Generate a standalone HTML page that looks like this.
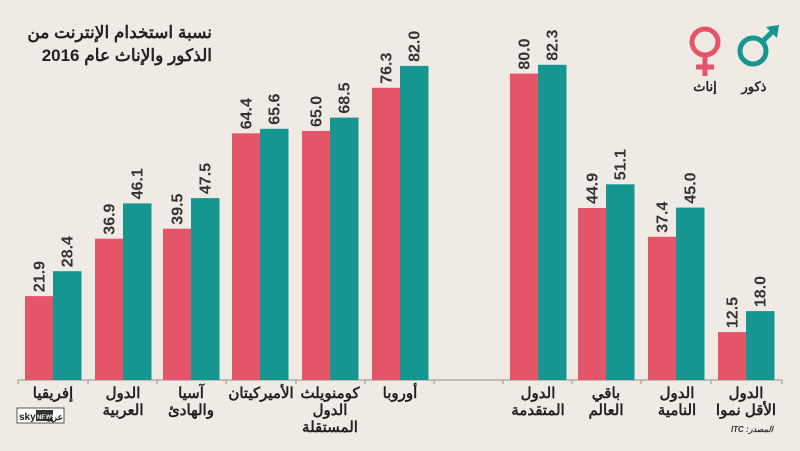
<!DOCTYPE html>
<html><head><meta charset="utf-8"><style>
html,body{margin:0;padding:0;background:#efebe4;}
svg{display:block}
text{font-family:"Liberation Sans","Noto Sans CJK SC",sans-serif;}
</style></head><body>
<svg width="800" height="451" xmlns="http://www.w3.org/2000/svg">
<rect width="800" height="451" fill="#efebe4"/>
<g font-weight="bold" fill="#222" text-anchor="start" font-size="17" direction="rtl">
<text x="212" y="38">نسبة استخدام الإنترنت من</text>
<text x="212" y="61">الذكور والإناث عام 2016</text>
</g>
<g fill="none" stroke-width="5">
<circle cx="705" cy="42" r="13" stroke="#e5556a"/>
<line x1="705" y1="55" x2="705" y2="76" stroke="#e5556a"/>
<line x1="696" y1="67" x2="714" y2="67" stroke="#e5556a"/>
<circle cx="753" cy="51" r="13" stroke="#159690"/>
<line x1="762" y1="42" x2="774" y2="30" stroke="#159690"/>
<polygon points="766,27 779,25 777,38" fill="#159690" stroke="none"/>
</g>
<g font-weight="bold" fill="#222" font-size="13" text-anchor="middle">
<text x="705" y="91">إناث</text><text x="754" y="91">ذكور</text>
</g>
<line x1="18" y1="380" x2="782" y2="380" stroke="#b0aca6" stroke-width="1.5"/>
<g stroke="#b0aca6" stroke-width="1.5">
<line x1="18" y1="380" x2="18" y2="384"/><line x1="88" y1="380" x2="88" y2="384"/><line x1="157" y1="380" x2="157" y2="384"/><line x1="226" y1="380" x2="226" y2="384"/><line x1="296" y1="380" x2="296" y2="384"/><line x1="365" y1="380" x2="365" y2="384"/><line x1="434" y1="380" x2="434" y2="384"/><line x1="503" y1="380" x2="503" y2="384"/><line x1="572" y1="380" x2="572" y2="384"/><line x1="641" y1="380" x2="641" y2="384"/><line x1="711" y1="380" x2="711" y2="384"/><line x1="782" y1="380" x2="782" y2="384"/>
</g>
<g>
<rect x="25" y="296.1" width="28.5" height="83.9" fill="#e5556a"/>
<rect x="53" y="271.2" width="28.5" height="108.8" fill="#159690"/>
<rect x="95" y="238.7" width="28.5" height="141.3" fill="#e5556a"/>
<rect x="123" y="203.4" width="28.5" height="176.6" fill="#159690"/>
<rect x="163" y="228.7" width="28.5" height="151.3" fill="#e5556a"/>
<rect x="191" y="198.1" width="28.5" height="181.9" fill="#159690"/>
<rect x="232" y="133.3" width="28.5" height="246.7" fill="#e5556a"/>
<rect x="260" y="128.8" width="28.5" height="251.2" fill="#159690"/>
<rect x="302" y="131.0" width="28.5" height="249.0" fill="#e5556a"/>
<rect x="330" y="117.6" width="28.5" height="262.4" fill="#159690"/>
<rect x="372" y="87.8" width="28.5" height="292.2" fill="#e5556a"/>
<rect x="400" y="65.9" width="28.5" height="314.1" fill="#159690"/>
<rect x="510" y="73.6" width="28.5" height="306.4" fill="#e5556a"/>
<rect x="538" y="64.8" width="28.5" height="315.2" fill="#159690"/>
<rect x="578" y="208.0" width="28.5" height="172.0" fill="#e5556a"/>
<rect x="606" y="184.3" width="28.5" height="195.7" fill="#159690"/>
<rect x="648" y="236.8" width="28.5" height="143.2" fill="#e5556a"/>
<rect x="676" y="207.6" width="28.5" height="172.4" fill="#159690"/>
<rect x="718" y="332.1" width="28.5" height="47.9" fill="#e5556a"/>
<rect x="746" y="311.1" width="28.5" height="68.9" fill="#159690"/>
</g>
<g font-size="16" font-weight="bold" fill="#333">
<text transform="translate(44.5,292.1) rotate(-90)">21.9</text>
<text transform="translate(72.5,267.2) rotate(-90)">28.4</text>
<text transform="translate(114.5,234.7) rotate(-90)">36.9</text>
<text transform="translate(142.5,199.4) rotate(-90)">46.1</text>
<text transform="translate(182.5,224.7) rotate(-90)">39.5</text>
<text transform="translate(210.5,194.1) rotate(-90)">47.5</text>
<text transform="translate(251.5,129.3) rotate(-90)">64.4</text>
<text transform="translate(279.5,124.8) rotate(-90)">65.6</text>
<text transform="translate(321.5,127.0) rotate(-90)">65.0</text>
<text transform="translate(349.5,113.6) rotate(-90)">68.5</text>
<text transform="translate(391.5,83.8) rotate(-90)">76.3</text>
<text transform="translate(419.5,61.9) rotate(-90)">82.0</text>
<text transform="translate(529.5,69.6) rotate(-90)">80.0</text>
<text transform="translate(557.5,60.8) rotate(-90)">82.3</text>
<text transform="translate(597.5,204.0) rotate(-90)">44.9</text>
<text transform="translate(625.5,180.3) rotate(-90)">51.1</text>
<text transform="translate(667.5,232.8) rotate(-90)">37.4</text>
<text transform="translate(695.5,203.6) rotate(-90)">45.0</text>
<text transform="translate(737.5,328.1) rotate(-90)">12.5</text>
<text transform="translate(765.5,307.1) rotate(-90)">18.0</text>
</g>
<g font-weight="bold" fill="#222" font-size="15" text-anchor="middle" direction="rtl">
<text x="53" y="398">إفريقيا</text>
<text x="123" y="398">الدول</text><text x="123" y="415">العربية</text>
<text x="191" y="398">آسيا</text><text x="191" y="415">والهادئ</text>
<text x="261" y="398">الأميركيتان</text>
<text x="330" y="398">كومنويلث</text><text x="330" y="415">الدول</text><text x="330" y="432">المستقلة</text>
<text x="400" y="398">أوروبا</text>
<text x="538" y="398">الدول</text><text x="538" y="415">المتقدمة</text>
<text x="606" y="398">باقي</text><text x="606" y="415">العالم</text>
<text x="677" y="398">الدول</text><text x="677" y="415">النامية</text>
<text x="746" y="398">الدول</text><text x="746" y="415">الأقل نموا</text>
</g>
<text x="773" y="432" font-size="8" font-style="italic" font-weight="bold" fill="#333" text-anchor="start" direction="rtl">المصدر: ITC</text>
<g>
<rect x="17" y="408" width="47" height="15" fill="#fff" stroke="#555" stroke-width="1"/>
<text x="19" y="420" font-size="10" font-weight="bold" fill="#222">sky</text>
<rect x="36" y="410" width="17" height="11" fill="#333"/>
<text x="37" y="419" font-size="6" font-weight="bold" fill="#fff">NEWS</text>
<text x="63" y="420" font-size="9" font-weight="bold" fill="#222" text-anchor="start" direction="rtl">عربية</text>
</g>
</svg>
</body></html>
